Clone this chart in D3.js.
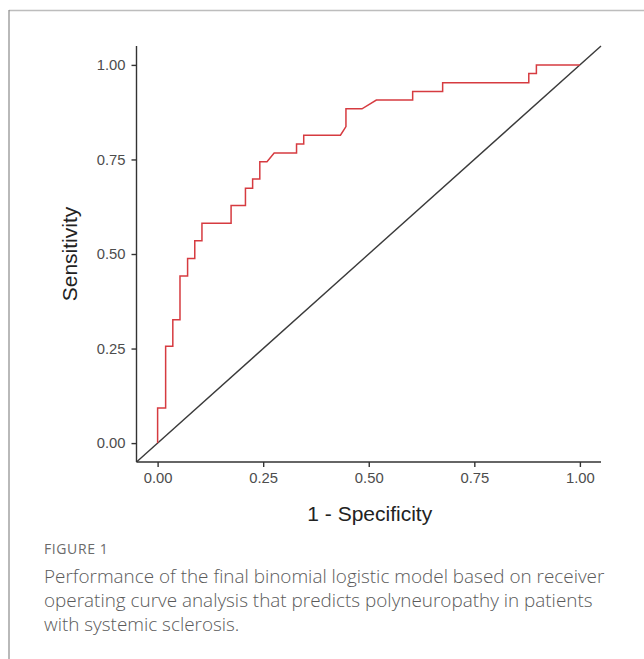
<!DOCTYPE html>
<html>
<head>
<meta charset="utf-8">
<script src="https://cdn.jsdelivr.net/npm/d3@7"></script>
<style>
  html, body { margin: 0; padding: 0; background: #fff; }
  svg { display: block; }
</style>
</head>
<body>
<svg id="chart" width="644" height="659"></svg>
<script>
// ROC curve points (1 - specificity, sensitivity)
const fpr = [0, 0, 0.019, 0.019, 0.036, 0.036, 0.053, 0.053, 0.071, 0.071, 0.088, 0.088, 0.105, 0.105,
  0.174, 0.174, 0.208, 0.208, 0.225, 0.225, 0.242, 0.242, 0.259, 0.276, 0.329, 0.329, 0.346, 0.346,
  0.433, 0.446, 0.446, 0.484, 0.518, 0.604, 0.604, 0.675, 0.675, 0.879, 0.879, 0.897, 0.897, 1];
const tpr = [0, 0.093, 0.093, 0.256, 0.256, 0.326, 0.326, 0.442, 0.442, 0.488, 0.488, 0.535, 0.535, 0.581,
  0.581, 0.628, 0.628, 0.674, 0.674, 0.698, 0.698, 0.744, 0.744, 0.767, 0.767, 0.791, 0.791, 0.814,
  0.814, 0.837, 0.884, 0.884, 0.907, 0.907, 0.930, 0.930, 0.953, 0.953, 0.977, 0.977, 1, 1];
const xTicks = [0, 0.25, 0.5, 0.75, 1];
const yTicks = [0, 0.25, 0.5, 0.75, 1];
const xLabel = "1 - Specificity";
const yLabel = "Sensitivity";
const figLabel = "FIGURE 1";
const captionLines = [
  "Performance of the final binomial logistic model based on receiver",
  "operating curve analysis that predicts polyneuropathy in patients",
  "with systemic sclerosis."
];

const svg = d3.select("#chart");

// frame
svg.append("line").attr("x1", 9).attr("x2", 644).attr("y1", 10.5).attr("y2", 10.5)
  .attr("stroke", "#bdbdbd").attr("stroke-width", 1.5);
svg.append("line").attr("x1", 9).attr("x2", 9).attr("y1", 10).attr("y2", 659)
  .attr("stroke", "#8a8a8a").attr("stroke-width", 1.2);

const pLeft = 136.5, pRight = 601, pTop = 46, pBottom = 462;
const x = d3.scaleLinear().domain([-0.05, 1.05]).range([pLeft, pRight]);
const y = d3.scaleLinear().domain([-0.05, 1.05]).range([pBottom, pTop]);

const g = svg.append("g");

// diagonal reference line across the full panel
g.append("line")
  .attr("x1", x(-0.05)).attr("y1", y(-0.05))
  .attr("x2", x(1.05)).attr("y2", y(1.05))
  .attr("stroke", "#3a3a3a").attr("stroke-width", 1.4);

// ROC curve
const pts = fpr.map((f, i) => [f, tpr[i]]);
g.append("path")
  .datum(pts)
  .attr("fill", "none")
  .attr("stroke", "#d63b40")
  .attr("stroke-width", 1.5)
  .attr("d", d3.line().x(d => x(d[0])).y(d => y(d[1])));

// axes
const fmt = d3.format(".2f");
const xAxis = g.append("g").attr("transform", `translate(0,${pBottom})`)
  .call(d3.axisBottom(x).tickValues(xTicks).tickFormat(fmt).tickSize(5).tickPadding(5));
const yAxis = g.append("g").attr("transform", `translate(${pLeft},0)`)
  .call(d3.axisLeft(y).tickValues(yTicks).tickFormat(fmt).tickSize(5).tickPadding(6));

[xAxis, yAxis].forEach(a => {
  a.select(".domain").attr("stroke", "#333").attr("stroke-width", 1.4);
  a.selectAll(".tick line").attr("stroke", "#333").attr("stroke-width", 1.4);
  a.selectAll(".tick text")
    .attr("fill", "#4d4d4d")
    .style("font-family", "'Liberation Sans', Arial, sans-serif")
    .style("font-size", "14.8px");
});
xAxis.select(".domain").attr("d", `M${pLeft},0H${pRight}`);
yAxis.select(".domain").attr("d", `M0,${pBottom}V${pTop}`);

// axis titles
svg.append("text")
  .attr("x", (pLeft + pRight) / 2 + 1).attr("y", 521)
  .attr("text-anchor", "middle")
  .attr("fill", "#222")
  .style("font-family", "'Liberation Sans', Arial, sans-serif")
  .style("font-size", "21px")
  .text(xLabel);
svg.append("text")
  .attr("transform", `translate(77,${(pTop + pBottom) / 2}) rotate(-90)`)
  .attr("text-anchor", "middle")
  .attr("fill", "#222")
  .style("font-family", "'Liberation Sans', Arial, sans-serif")
  .style("font-size", "21px")
  .text(yLabel);

// caption
svg.append("text")
  .attr("x", 44).attr("y", 554)
  .attr("fill", "#6b6b6b")
  .style("font-family", "'Open Sans', sans-serif")
  .style("font-size", "14px")
  .style("letter-spacing", "0.6px")
  .text(figLabel);
svg.selectAll("text.cap").data(captionLines).enter().append("text")
  .attr("class", "cap")
  .attr("x", 44).attr("y", (d, i) => 583 + i * 24)
  .attr("fill", "#5a5a5a")
  .style("font-family", "'Open Sans', sans-serif")
  .style("font-size", "18.9px")
  .style("font-weight", 300)
  .text(d => d);
</script>
</body>
</html>
